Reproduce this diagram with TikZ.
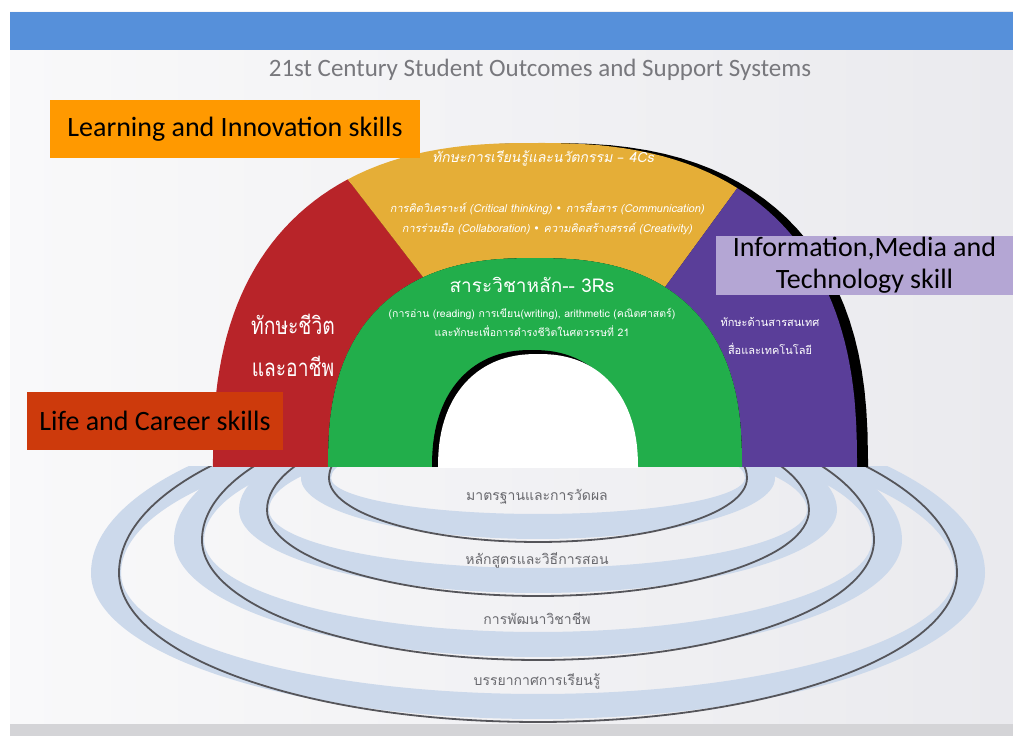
\documentclass[tikz,border=0pt]{standalone}
\usepackage{fontspec}
\setmainfont{Carlito}
\newfontfamily\thai[Script=Thai]{Loma}
\newfontfamily\thainarrow[Script=Thai,FakeStretch=0.8]{Loma}
\newfontfamily\thaiit[Script=Thai,FakeSlant=0.2]{Loma}
\newfontfamily\dejavu{DejaVu Sans}
\usetikzlibrary{positioning}

\definecolor{barblue}{RGB}{86,144,218}
\definecolor{archred}{RGB}{184,36,41}
\definecolor{archyellow}{RGB}{229,174,55}
\definecolor{archpurple}{RGB}{90,62,153}
\definecolor{archgreen}{RGB}{34,174,75}
\definecolor{boxorange}{RGB}{255,153,0}
\definecolor{boxred}{RGB}{205,58,12}
\definecolor{boxlav}{RGB}{180,166,212}
\definecolor{ringband}{RGB}{204,217,235}
\definecolor{ringline}{RGB}{85,85,90}
\definecolor{ringtext}{RGB}{105,105,110}
\definecolor{titlegray}{RGB}{120,120,125}
\definecolor{slideleft}{RGB}{249,249,250}
\definecolor{slideright}{RGB}{234,234,238}
\definecolor{slidefoot}{RGB}{212,212,215}

\begin{document}
\begin{tikzpicture}[x=1pt,y=1pt,
  declare function={sx(\t)=sign(cos(\t))*pow(abs(cos(\t)),0.8);
                    sy(\t)=pow(sin(\t),0.8);
                    hx(\t)=sign(cos(\t))*pow(abs(cos(\t)),0.88);
                    hy(\t)=pow(sin(\t),0.88);},
  label box/.style={inner sep=0pt,text=black,font=\fontsize{28}{32}\selectfont},
  arch text/.style={text=white,align=center,inner sep=0pt},
  ring text/.style={text=ringtext,inner sep=0pt,font=\thai\fontsize{14}{16}\selectfont}]

  \useasboundingbox (0,0) rectangle (1013,736);
  % slide background
  \fill[white] (0,0) rectangle (1013,736);
  \shade[left color=slideleft,right color=slideright] (10,12) rectangle (1013,724);
  \fill[slidefoot] (10,0) rectangle (1013,12);
  \fill[barblue] (10,686) rectangle (1013,724);

  \node[text=titlegray,font=\fontsize{25}{27}\selectfont] (title) at (540,666)
    {21st Century Student Outcomes and Support Systems};

  % support rings
  \begin{scope}
    \clip (0,0) rectangle (1013,269);
    \foreach \c/\rx/\ry in {163/447/149,196/364/120,226/299/86,258/237/64}{
      \fill[ringband,even odd rule]
        (538+\rx,\c) arc[start angle=0,end angle=180,x radius=\rx,y radius=1.15*\ry]
                     arc[start angle=180,end angle=360,x radius=\rx,y radius=\ry-3] -- cycle
        (538+\rx-30,\c) arc[start angle=0,end angle=180,x radius=\rx-30,y radius=1.15*\ry-28]
                     arc[start angle=180,end angle=360,x radius=\rx-30,y radius=\ry-28] -- cycle;
      \draw[ringline,line width=1.8pt]
        (538+\rx-28,\c) arc[start angle=0,end angle=180,x radius=\rx-28,y radius=1.15*\ry]
                     arc[start angle=180,end angle=360,x radius=\rx-28,y radius=\ry];
    }
  \end{scope}

  \node[ring text] (r1) at (537,239) {มาตรฐานและการวัดผล};
  \node[ring text] (r2) [below of=r1,node distance=63pt] {หลักสูตรและวิธีการสอน};
  \node[ring text] (r3) [below of=r2,node distance=59pt] {การพัฒนาวิชาชีพ};
  \node[ring text] (r4) [below of=r3,node distance=62pt] {บรรยากาศการเรียนรู้};

  % rainbow arch
  \fill[black] plot[domain=179.5:0.5,samples=60,variable=\t] ({546+322*sx(\t)},{269+324*sy(\t)})
    -- (868,269) -- (224,269) -- cycle;
  \fill[archred] (213,269)
    -- plot[domain=179.5:120.5,samples=30,variable=\t] ({535+322*sx(\t)},{269+324*sy(\t)})
    -- plot[domain=117.6:179.5,samples=30,variable=\t] ({535+207*sx(\t)},{269+209*sy(\t)})
    -- (328,269) -- cycle;
  \fill[archyellow]
       plot[domain=120.5:56,samples=30,variable=\t] ({535+322*sx(\t)},{269+324*sy(\t)})
    -- plot[domain=56:117.6,samples=30,variable=\t] ({535+207*sx(\t)},{269+209*sy(\t)}) -- cycle;
  \fill[archpurple]
       plot[domain=56:0.5,samples=30,variable=\t] ({535+322*sx(\t)},{269+324*sy(\t)})
    -- (857,269) -- (742,269)
    -- plot[domain=0.5:56,samples=30,variable=\t] ({535+207*sx(\t)},{269+209*sy(\t)}) -- cycle;
  \fill[archgreen] (328,269)
    -- plot[domain=179.5:0.5,samples=60,variable=\t] ({535+207*sx(\t)},{269+209*sy(\t)})
    -- (742,269) -- cycle;
  \fill[black] (432,269)
    -- plot[domain=179.5:0.5,samples=60,variable=\t] ({532+100*hx(\t)},{269+117*hy(\t)})
    -- (632,269) -- cycle;
  \fill[white] (438,268)
    -- plot[domain=179.5:0.5,samples=60,variable=\t] ({538+100*hx(\t)},{268+114*hy(\t)})
    -- (638,268) -- cycle;

  \node[arch text,font=\thaiit\fontsize{14}{16}\selectfont] (c4) at (543,578)
    {ทักษะการเรียนรู้และนวัตกรรม {\dejavu –} 4Cs};
  \node[arch text,font=\thaiit\fontsize{11}{19.5}\selectfont] (c4body) at (547,518)
    {การคิดวิเคราะห์ (Critical thinking) {\dejavu •} การสื่อสาร (Communication)\\
     การร่วมมือ (Collaboration) {\dejavu •} ความคิดสร้างสรรค์ (Creativity)};
  \node[arch text,font=\thai\fontsize{19}{21}\selectfont] (r3s) at (532,451) {สาระวิชาหลัก-- 3Rs};
  \node[arch text,font=\thai\fontsize{10.5}{19}\selectfont] (r3sbody) [below of=r3s,node distance=37.5pt]
    {(การอ่าน (reading) การเขียน(writing), arithmetic (คณิตศาสตร์)\\
     และทักษะเพื่อการดำรงชีวิตในศตวรรษที่ 21};
  \node[arch text,font=\thainarrow\fontsize{24}{42}\selectfont] (life) at (293,391) {ทักษะชีวิต\\และอาชีพ};
  \node[arch text,font=\thai\fontsize{11}{28}\selectfont] (imtth) at (770,400) {ทักษะด้านสารสนเทศ\\สื่อและเทคโนโลยี};

  % skill labels
  \node[label box,fill=boxorange,minimum width=370pt,minimum height=58pt] (lis) at (235,607)
    {Learning and Innovation skills};
  \node[label box,fill=boxred,minimum width=256pt,minimum height=58pt] (lcs) at (155,315)
    {Life and Career skills};
  \node[label box,fill=boxlav,minimum width=297pt,minimum height=59pt,align=center] (imt) at (864.5,470.5)
    {Information,Media and\\Technology skill};

\end{tikzpicture}
\end{document}
